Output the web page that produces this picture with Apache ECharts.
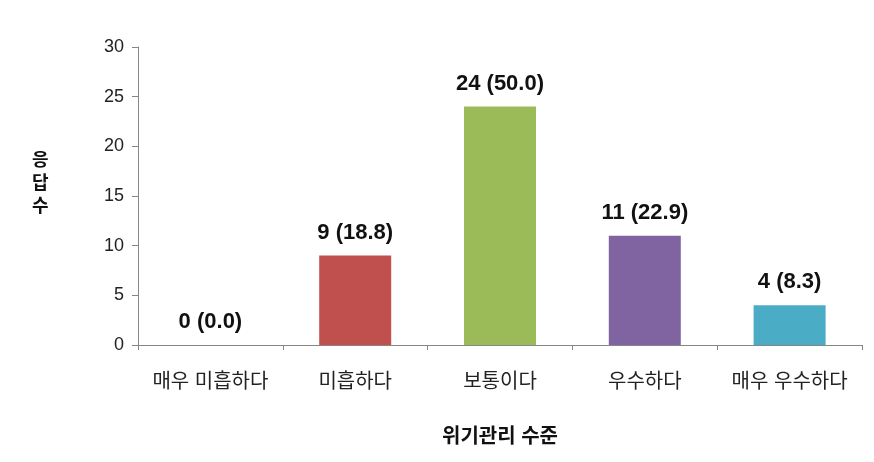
<!DOCTYPE html>
<html><head><meta charset="utf-8">
<script src="https://cdn.jsdelivr.net/npm/echarts@6/dist/echarts.min.js"></script>
<style>html,body{margin:0;padding:0;background:#fff}#c{width:874px;height:462px}</style>
</head><body><div id="c"></div>
<script>
const categories = ['매우 미흡하다', '미흡하다', '보통이다', '우수하다', '매우 우수하다'];
const counts = [0, 9, 24, 11, 4];
const percents = ['0.0', '18.8', '50.0', '22.9', '8.3'];
const colors = ['#4F81BD', '#C0504D', '#9BBB59', '#8064A2', '#4BACC6'];
const yTicks = { min: 0, max: 30, interval: 5 };
const FONT = '"Liberation Sans", "Noto Sans CJK KR", sans-serif';

const chart = echarts.init(document.getElementById('c'), null, { renderer: 'canvas' });
chart.setOption({
  animation: false,
  textStyle: { fontFamily: FONT },
  grid: { left: 138, right: 12, top: 47, bottom: 117, containLabel: false },
  xAxis: {
    type: 'category',
    data: categories,
    axisLine: { lineStyle: { color: '#868686', width: 1 } },
    axisTick: { show: true, interval: 0, alignWithLabel: false, length: 5, lineStyle: { color: '#868686' } },
    axisLabel: { interval: 0, hideOverlap: false, color: '#222', fontSize: 20, margin: 27, fontFamily: FONT },
    name: '위기관리 수준',
    nameLocation: 'middle',
    nameGap: 82,
    nameTextStyle: { color: '#111', fontSize: 20, fontWeight: 'bold', fontFamily: FONT }
  },
  yAxis: {
    type: 'value',
    min: yTicks.min, max: yTicks.max, interval: yTicks.interval,
    splitLine: { show: false },
    axisLine: { show: true, lineStyle: { color: '#868686', width: 1 } },
    axisTick: { show: true, length: 6, inside: false, lineStyle: { color: '#868686' } },
    axisLabel: { color: '#222', fontSize: 18, margin: 14, fontFamily: FONT }
  },
  graphic: [{
    type: 'text',
    left: 32, top: 150,
    style: { text: '응\n답\n수', fontSize: 18, fontWeight: 'bold', fill: '#111', lineHeight: 23, fontFamily: FONT, align: 'center' }
  }],
  series: [{
    type: 'bar',
    barWidth: 72,
    data: counts.map((v, i) => ({ value: v, itemStyle: { color: colors[i] } })),
    label: {
      show: true,
      position: 'top',
      distance: 12,
      color: '#111',
      fontSize: 22,
      fontWeight: 'bold',
      fontFamily: FONT,
      formatter: p => counts[p.dataIndex] + ' (' + percents[p.dataIndex] + ')'
    }
  }]
});
</script>
</body></html>
